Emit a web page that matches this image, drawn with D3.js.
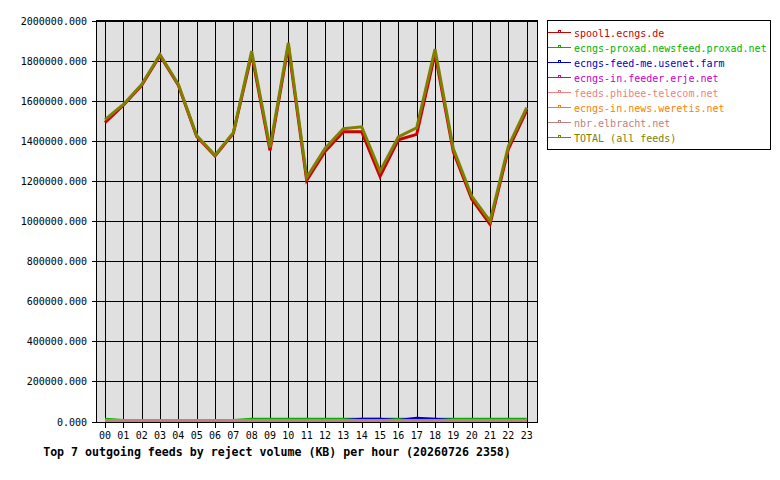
<!DOCTYPE html>
<html lang="en">
<head>
<meta charset="UTF-8">
<script src="https://d3js.org/d3.v7.min.js"></script>
<title>Top 7 outgoing feeds by reject volume</title>
<style>
    body { margin: 0; background: #fff; }
    text { font-family: "DejaVu Sans Mono", monospace; }
</style>
</head>
<body>
<div class="graph"></div>
<script>
    // hours on the x axis
    var hours = ["00","01","02","03","04","05","06","07","08","09","10","11",
                 "12","13","14","15","16","17","18","19","20","21","22","23"];

    // KB per hour
    var spool1 = [1486000,1572000,1672000,1821000,1672000,1417000,1319000,1432000,
                  1827000,1347000,1869000,1197000,1342000,1440000,1440000,1218000,
                  1400000,1427000,1830000,1340000,1104000,979000,1353000,1545000];
    var proxad = [6000,0,0,0,0,0,0,0,6000,6000,6000,6000,
                  6000,6000,6000,6000,6000,6000,6000,6000,6000,6000,6000,6000];
    var feedMe = [0,0,0,0,0,0,0,0,0,0,0,0,
                  0,0,6000,6000,0,11000,6000,0,0,0,0,0];
    var erje = [0,0,0,0,0,0,0,0,0,0,0,0,0,0,0,0,0,0,0,0,0,0,0,0];
    var phibee = [0,0,0,0,0,0,0,0,0,0,0,0,0,0,0,0,0,0,0,0,0,0,0,0];
    var weretis = [0,0,0,0,0,0,0,0,0,0,0,0,0,0,0,0,0,0,0,0,0,0,0,0];
    var elbracht = [0,0,0,0,0,0,0,0,0,0,0,0,0,0,0,0,0,0,0,0,0,0,0,0];
    var total = [1501000,1576000,1676000,1825000,1676000,1421000,1323000,1436000,
                 1842000,1362000,1884000,1212000,1357000,1455000,1465000,1243000,
                 1415000,1460000,1852000,1355000,1119000,994000,1368000,1560000];

    var yTicks = [0,200000,400000,600000,800000,1000000,1200000,1400000,1600000,1800000,2000000];

    var seriesNames = ["spool1.ecngs.de","ecngs-proxad.newsfeed.proxad.net","ecngs-feed-me.usenet.farm",
                       "ecngs-in.feeder.erje.net","feeds.phibee-telecom.net","ecngs-in.news.weretis.net",
                       "nbr.elbracht.net","TOTAL (all feeds)"];
    var seriesColors = ["#cc0000","#00b400","#0000cc","#c800c8","#f08080","#ff8000","#c08080","#808000"];
    var seriesData = [spool1, proxad, feedMe, erje, phibee, weretis, elbracht, total];

    var width = 780, height = 480;
    var plot = { left: 96, right: 537, top: 20, bottom: 422 };

    var x = d3.scaleLinear().domain([0, 23]).range([105, 526.7]);
    var y = d3.scaleLinear().domain([0, 2000000]).range([421.5, 20.5]);

    var svg = d3.select(".graph").append("svg")
        .attr("width", width)
        .attr("height", height);

    // plot background
    svg.append("rect")
        .attr("x", plot.left + 0.5).attr("y", plot.top + 0.5)
        .attr("width", plot.right - plot.left).attr("height", plot.bottom - plot.top)
        .attr("fill", "#e0e0e0");

    // grid
    var grid = svg.append("g").attr("stroke", "#000").attr("stroke-width", 1)
        .attr("shape-rendering", "crispEdges");
    grid.selectAll(".vg").data(hours).enter().append("line")
        .attr("x1", function (d, i) { return Math.round(x(i)) + 0.5; })
        .attr("x2", function (d, i) { return Math.round(x(i)) + 0.5; })
        .attr("y1", plot.top + 0.5).attr("y2", plot.bottom + 5.5);
    grid.selectAll(".hg").data(yTicks).enter().append("line")
        .attr("x1", plot.left - 4.5).attr("x2", plot.right + 0.5)
        .attr("y1", function (d) { return Math.round(y(d)) + 0.5; })
        .attr("y2", function (d) { return Math.round(y(d)) + 0.5; });

    // y labels
    svg.append("g").selectAll("text").data(yTicks).enter().append("text")
        .attr("x", 87)
        .attr("y", function (d) { return Math.round(y(d)) + 4; })
        .attr("text-anchor", "end")
        .attr("font-size", "10px")
        .text(function (d) { return d3.format(".3f")(d); });

    // x labels
    svg.append("g").selectAll("text").data(hours).enter().append("text")
        .attr("x", function (d, i) { return x(i); })
        .attr("y", 439)
        .attr("text-anchor", "middle")
        .attr("font-size", "10px")
        .text(function (d) { return d; });

    // lines (drawn one pixel up so the zero line sits on the frame)
    var line = d3.line()
        .x(function (d, i) { return x(i); })
        .y(function (d) { return y(d) - 1; });

    svg.append("defs").append("clipPath").attr("id", "clip")
        .append("rect")
        .attr("x", plot.left + 1).attr("y", plot.top + 1)
        .attr("width", plot.right - plot.left - 1).attr("height", plot.bottom - plot.top - 1);

    svg.append("g").attr("clip-path", "url(#clip)")
        .selectAll("path").data(seriesData).enter().append("path")
        .attr("d", line)
        .attr("fill", "none")
        .attr("stroke", function (d, i) { return seriesColors[i]; })
        .attr("stroke-width", 3)
        .attr("stroke-linejoin", "miter");

    // frame
    svg.append("rect")
        .attr("x", plot.left + 0.5).attr("y", plot.top + 0.5)
        .attr("width", plot.right - plot.left).attr("height", plot.bottom - plot.top)
        .attr("fill", "none").attr("stroke", "#000")
        .attr("shape-rendering", "crispEdges");

    // title
    svg.append("text")
        .attr("x", 277).attr("y", 456)
        .attr("text-anchor", "middle")
        .attr("font-size", "11.6px")
        .attr("font-weight", "bold")
        .text("Top 7 outgoing feeds by reject volume (KB) per hour (20260726 2358)");

    // legend
    var legend = svg.append("g");
    legend.append("rect")
        .attr("x", 547.5).attr("y", 20.5)
        .attr("width", 223).attr("height", 129)
        .attr("fill", "#fff").attr("stroke", "#000")
        .attr("shape-rendering", "crispEdges");

    var items = legend.selectAll(".item").data(seriesNames).enter().append("g")
        .attr("transform", function (d, i) { return "translate(0," + (32 + i * 15) + ")"; });
    items.append("line")
        .attr("x1", 548).attr("x2", 571).attr("y1", 0.5).attr("y2", 0.5)
        .attr("stroke", function (d, i) { return seriesColors[i]; })
        .attr("shape-rendering", "crispEdges");
    items.append("path")
        .attr("d", "M558.5,0.5V-1.5H560.5V0.5")
        .attr("fill", "none")
        .attr("stroke", function (d, i) { return seriesColors[i]; })
        .attr("shape-rendering", "crispEdges");
    items.append("text")
        .attr("x", 574).attr("y", 5)
        .attr("font-size", "10px")
        .attr("fill", function (d, i) { return seriesColors[i]; })
        .text(function (d) { return d; });
</script>
</body>
</html>
